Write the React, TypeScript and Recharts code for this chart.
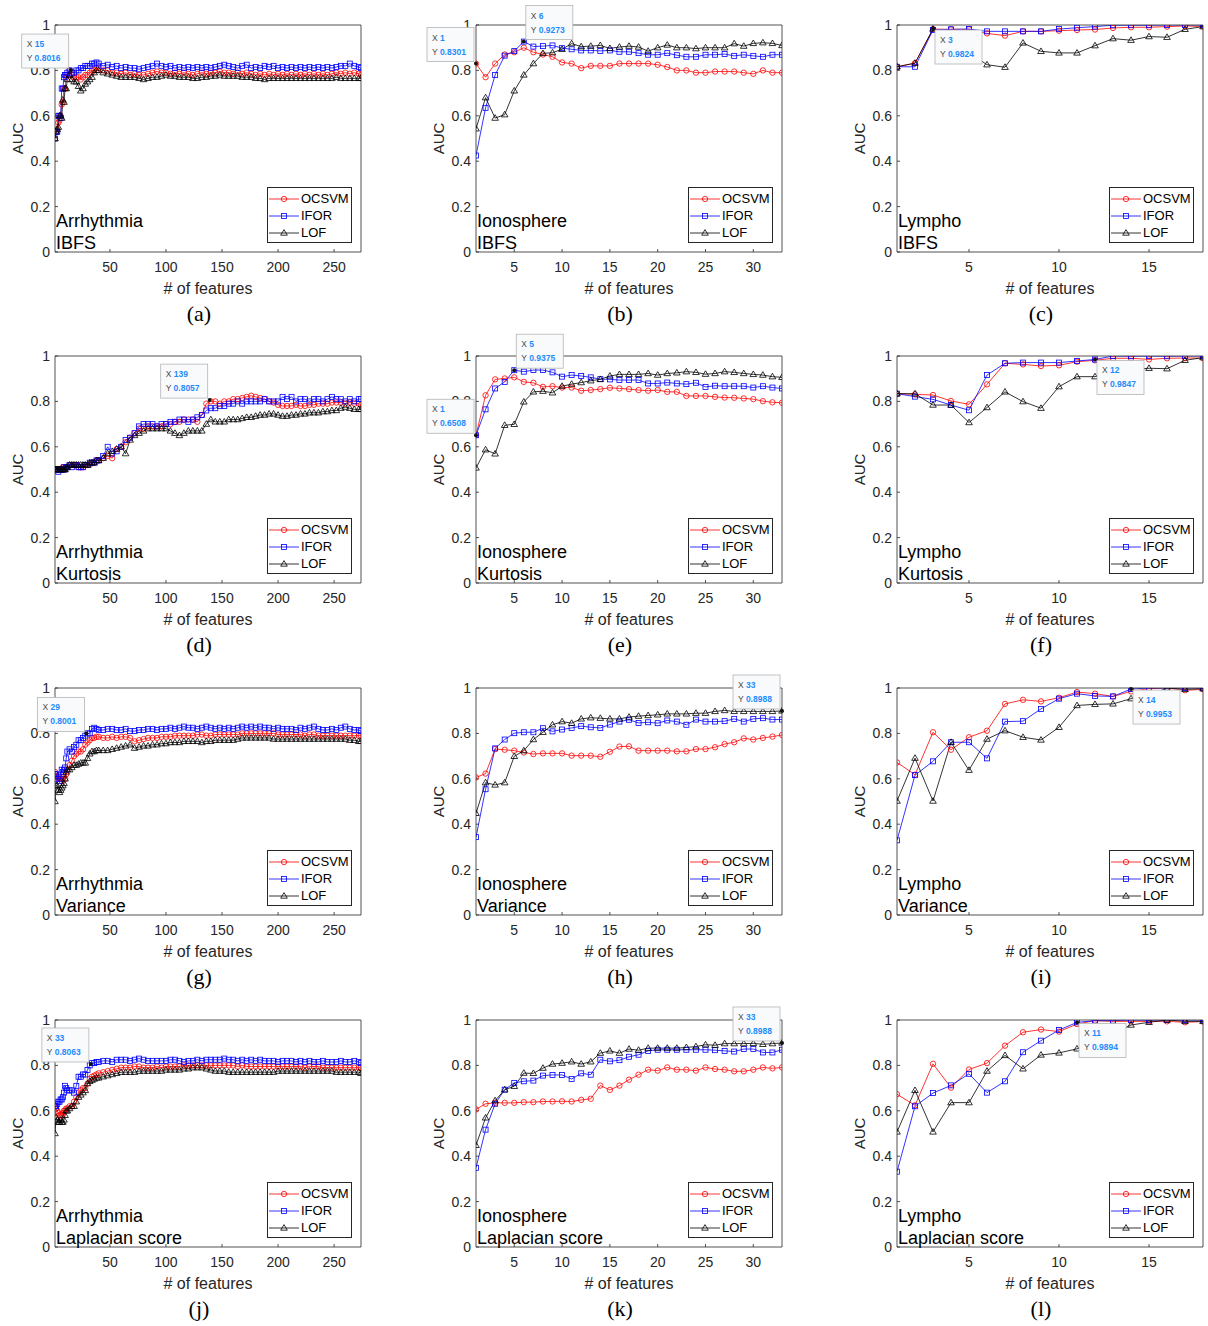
import React from 'react';
import { LineChart, Line, XAxis, YAxis, ReferenceDot } from 'recharts';

// ---- data -----------------------------------------------------------------
const SERIES = ['OCSVM', 'IFOR', 'LOF'];
const AUC_TICKS = [0, 0.2, 0.4, 0.6, 0.8, 1];
const ARR_TICKS = [50, 100, 150, 200, 250];
const ION_TICKS = [5, 10, 15, 20, 25, 30];
const LYM_TICKS = [5, 10, 15];

const ARR_X = [1, 2, 3, 4, 5, 6, 7, 8, 9, 10, 11, 12,
  14, 16, 18, 20, 22, 24, 26, 28, 30, 32, 34, 36, 38, 40,
  44, 48, 52, 56, 60, 64, 68, 72, 76, 80,
  84, 88, 92, 96, 100, 104, 108, 112, 116, 120,
  124, 128, 132, 136, 140, 144, 148, 152, 156, 160,
  164, 168, 172, 176, 180, 184, 188, 192, 196, 200,
  204, 208, 212, 216, 220, 224, 228, 232, 236, 240,
  244, 248, 252, 256, 260, 264, 268, 272, 274];
const ION_X = [1, 2, 3, 4, 5, 6, 7, 8, 9, 10, 11, 12, 13, 14, 15, 16, 17, 18, 19, 20, 21, 22, 23, 24, 25, 26, 27, 28, 29, 30, 31, 32, 33];
const LYM_X = [1, 2, 3, 4, 5, 6, 7, 8, 9, 10, 11, 12, 13, 14, 15, 16, 17, 18];

const ARR_IBFS_OCSVM = [.50, .53, .54, .57, .58, .60, .65, .66, .72, .72, .77, .78,
  .80, .78, .77, .77, .77, .76, .77, .78, .78, .79, .80, .80, .81, .81,
  .80, .80, .79, .79, .785, .79, .78, .785, .78, .78,
  .785, .79, .795, .79, .79, .785, .79, .785, .79, .785,
  .78, .785, .79, .785, .79, .79, .795, .79, .79, .785,
  .79, .785, .79, .785, .78, .785, .78, .785, .78, .785,
  .78, .785, .78, .785, .78, .785, .78, .785, .78, .785,
  .78, .785, .79, .785, .79, .785, .79, .785, .78];
const ARR_IBFS_IFOR = [.50, .53, .53, .60, .60, .59, .72, .72, .77, .78, .78, .79,
  .80, .79, .79, .80, .80, .81, .81, .82, .82, .82, .83, .83, .835, .83,
  .82, .825, .815, .82, .81, .815, .81, .81, .805, .81,
  .815, .82, .83, .82, .815, .82, .81, .815, .81, .815,
  .81, .815, .81, .815, .81, .815, .82, .825, .82, .815,
  .81, .82, .825, .81, .815, .81, .82, .815, .82, .81,
  .815, .81, .815, .81, .815, .81, .815, .81, .815, .81,
  .815, .81, .815, .82, .82, .83, .82, .815, .81];
const ARR_IBFS_LOF = [.50, .53, .54, .55, .60, .60, .59, .67, .66, .72, .72, .76,
  .78, .76, .75, .75, .73, .71, .72, .74, .75, .76, .77, .79, .80, .80,
  .79, .785, .78, .775, .77, .77, .77, .77, .765, .76,
  .765, .77, .77, .775, .78, .775, .775, .77, .77, .77,
  .765, .765, .77, .77, .775, .775, .78, .775, .775, .775,
  .775, .77, .77, .77, .765, .765, .76, .765, .765, .765,
  .765, .765, .765, .765, .765, .765, .765, .765, .765, .765,
  .765, .765, .77, .765, .765, .765, .765, .765, .765];

const ARR_KURT_OCSVM = [.50, .50, .50, .50, .50, .50, .50, .51, .50, .51, .51, .51,
  .52, .52, .52, .52, .51, .51, .51, .52, .52, .52, .53, .53, .54, .54,
  .55, .56, .55, .59, .60, .62, .64, .66, .68, .68,
  .69, .69, .69, .69, .70, .70, .71, .71, .72, .72,
  .72, .71, .74, .79, .80, .80, .79, .80, .80, .81,
  .81, .815, .82, .825, .82, .815, .81, .80, .795, .785,
  .78, .78, .78, .785, .78, .78, .785, .785, .79, .79,
  .79, .795, .795, .795, .79, .795, .79, .79, .785];
const ARR_KURT_IFOR = [.50, .50, .50, .49, .50, .50, .50, .50, .51, .50, .51, .51,
  .52, .51, .52, .52, .51, .51, .51, .52, .52, .53, .53, .53, .54, .54,
  .56, .60, .57, .58, .60, .63, .64, .66, .69, .70,
  .70, .70, .69, .70, .70, .71, .71, .72, .72, .71,
  .72, .73, .74, .76, .77, .77, .78, .78, .79, .79,
  .80, .79, .80, .80, .80, .80, .81, .80, .80, .80,
  .82, .81, .82, .80, .81, .81, .80, .81, .81, .80,
  .81, .82, .81, .81, .80, .81, .80, .81, .81];
const ARR_KURT_LOF = [.50, .50, .50, .50, .50, .50, .50, .50, .50, .50, .51, .51,
  .52, .52, .52, .52, .52, .52, .52, .52, .52, .53, .53, .53, .54, .54,
  .55, .57, .58, .59, .60, .57, .63, .65, .66, .67,
  .68, .68, .68, .68, .68, .67, .66, .65, .66, .67,
  .67, .67, .67, .70, .72, .71, .71, .71, .72, .72,
  .72, .725, .73, .73, .735, .74, .74, .745, .745, .74,
  .735, .735, .74, .74, .745, .745, .75, .75, .75, .755,
  .755, .76, .76, .77, .775, .77, .765, .765, .765];

const ARR_VAR_OCSVM = [.63, .62, .61, .60, .60, .60, .59, .60, .61, .60, .62, .64,
  .66, .68, .70, .71, .72, .72, .73, .75, .76, .77, .78, .78, .785, .785,
  .78, .78, .785, .78, .785, .785, .78, .765, .77, .775,
  .78, .78, .78, .785, .785, .785, .79, .79, .79, .79,
  .79, .795, .795, .79, .79, .795, .795, .795, .795, .795,
  .795, .80, .80, .80, .80, .80, .80, .80, .80, .795,
  .795, .795, .795, .795, .795, .79, .795, .795, .79, .79,
  .79, .79, .79, .79, .79, .79, .79, .79, .79];
const ARR_VAR_IFOR = [.62, .62, .60, .61, .59, .60, .64, .63, .64, .65, .69, .72,
  .73, .72, .74, .75, .77, .77, .78, .79, .80, .80, .82, .825, .82, .815,
  .815, .82, .82, .815, .815, .82, .81, .81, .815, .815,
  .82, .82, .815, .82, .82, .825, .82, .825, .83, .825,
  .825, .82, .825, .83, .825, .82, .825, .82, .825, .82,
  .825, .83, .825, .83, .825, .83, .825, .825, .82, .825,
  .82, .82, .82, .815, .825, .82, .825, .83, .82, .815,
  .815, .82, .815, .825, .83, .82, .815, .815, .81];
const ARR_VAR_LOF = [.50, .57, .57, .55, .54, .55, .56, .57, .58, .60, .63, .64,
  .64, .65, .66, .66, .665, .67, .67, .67, .69, .71, .72, .72, .725, .725,
  .725, .725, .73, .735, .74, .745, .75, .735, .74, .745,
  .745, .75, .75, .755, .755, .76, .76, .76, .765, .765,
  .765, .765, .76, .765, .765, .77, .77, .77, .77, .77,
  .775, .78, .78, .78, .78, .78, .78, .78, .775, .775,
  .775, .775, .775, .775, .775, .775, .775, .775, .775, .775,
  .775, .775, .775, .775, .775, .77, .77, .765, .765];

const ARR_LAP_OCSVM = [.62, .61, .60, .59, .58, .58, .58, .59, .60, .60, .61, .61,
  .62, .62, .64, .66, .68, .69, .70, .70, .72, .74, .75, .755, .76, .765,
  .77, .775, .78, .785, .79, .79, .79, .795, .795, .79,
  .79, .79, .795, .79, .795, .795, .795, .795, .80, .80,
  .80, .80, .80, .80, .80, .80, .80, .80, .80, .80,
  .795, .80, .795, .795, .795, .795, .795, .795, .795, .795,
  .795, .795, .795, .795, .795, .79, .795, .795, .795, .79,
  .79, .79, .79, .79, .79, .79, .79, .79, .79];
const ARR_LAP_IFOR = [.62, .62, .63, .64, .64, .65, .65, .66, .68, .71, .70, .69,
  .69, .69, .68, .71, .75, .75, .76, .76, .78, .80, .81, .81, .815, .815,
  .82, .82, .815, .825, .825, .825, .82, .825, .83, .825,
  .82, .82, .82, .82, .82, .825, .825, .82, .815, .82,
  .82, .825, .82, .825, .825, .825, .825, .83, .825, .825,
  .82, .825, .82, .825, .82, .825, .82, .82, .82, .815,
  .82, .82, .82, .815, .82, .815, .82, .815, .815, .82,
  .815, .815, .815, .82, .815, .815, .82, .815, .81];
const ARR_LAP_LOF = [.50, .57, .56, .55, .55, .56, .55, .55, .56, .58, .60, .60,
  .61, .62, .62, .64, .66, .67, .68, .69, .72, .73, .735, .74, .745, .745,
  .75, .755, .76, .765, .77, .77, .77, .77, .775, .775,
  .775, .775, .775, .775, .78, .78, .78, .78, .785, .785,
  .79, .79, .79, .785, .78, .775, .775, .775, .77, .77,
  .77, .77, .77, .77, .77, .77, .77, .77, .77, .775,
  .775, .775, .775, .775, .775, .775, .775, .775, .775, .775,
  .775, .775, .77, .77, .77, .77, .77, .77, .765];

const ION_IBFS_OCSVM = [0.83, 0.77, 0.83, 0.87, 0.88, 0.90, 0.88, 0.87, 0.86, 0.835, 0.83, 0.81, 0.82, 0.82, 0.82, 0.83, 0.83, 0.83, 0.83, 0.825, 0.815, 0.80, 0.80, 0.79, 0.79, 0.795, 0.795, 0.795, 0.79, 0.785, 0.80, 0.79, 0.79];
const ION_IBFS_IFOR = [0.425, 0.635, 0.78, 0.865, 0.885, 0.927, 0.905, 0.907, 0.91, 0.898, 0.893, 0.888, 0.888, 0.886, 0.888, 0.882, 0.882, 0.876, 0.869, 0.869, 0.876, 0.867, 0.86, 0.86, 0.869, 0.869, 0.872, 0.864, 0.869, 0.864, 0.86, 0.869, 0.869];
const ION_IBFS_LOF = [0.543, 0.68, 0.59, 0.605, 0.71, 0.78, 0.83, 0.875, 0.878, 0.893, 0.918, 0.905, 0.907, 0.91, 0.897, 0.903, 0.907, 0.903, 0.885, 0.90, 0.912, 0.90, 0.90, 0.896, 0.90, 0.90, 0.90, 0.918, 0.907, 0.919, 0.922, 0.919, 0.91];

const ION_KURT_OCSVM = [0.651, 0.827, 0.897, 0.901, 0.906, 0.886, 0.882, 0.864, 0.867, 0.861, 0.861, 0.847, 0.85, 0.854, 0.86, 0.857, 0.854, 0.85, 0.847, 0.85, 0.842, 0.842, 0.824, 0.824, 0.824, 0.82, 0.817, 0.816, 0.813, 0.81, 0.801, 0.796, 0.794];
const ION_KURT_IFOR = [0.651, 0.765, 0.857, 0.886, 0.9375, 0.931, 0.938, 0.938, 0.928, 0.909, 0.916, 0.912, 0.906, 0.898, 0.897, 0.894, 0.894, 0.894, 0.879, 0.879, 0.883, 0.879, 0.876, 0.882, 0.864, 0.869, 0.867, 0.867, 0.867, 0.861, 0.867, 0.861, 0.857];
const ION_KURT_LOF = [0.507, 0.587, 0.569, 0.695, 0.699, 0.798, 0.842, 0.845, 0.838, 0.867, 0.876, 0.883, 0.891, 0.897, 0.912, 0.919, 0.919, 0.919, 0.923, 0.916, 0.923, 0.926, 0.931, 0.928, 0.92, 0.923, 0.931, 0.928, 0.923, 0.919, 0.916, 0.909, 0.906];

const ION_VAR_OCSVM = [0.606, 0.623, 0.731, 0.728, 0.724, 0.716, 0.709, 0.712, 0.712, 0.712, 0.702, 0.702, 0.702, 0.697, 0.719, 0.742, 0.743, 0.724, 0.724, 0.724, 0.724, 0.721, 0.721, 0.731, 0.731, 0.739, 0.753, 0.761, 0.778, 0.773, 0.78, 0.786, 0.793];
const ION_VAR_IFOR = [0.343, 0.554, 0.734, 0.773, 0.801, 0.805, 0.805, 0.823, 0.809, 0.817, 0.824, 0.832, 0.827, 0.824, 0.839, 0.852, 0.86, 0.846, 0.849, 0.845, 0.857, 0.852, 0.838, 0.861, 0.852, 0.852, 0.854, 0.864, 0.852, 0.864, 0.867, 0.861, 0.861];
const ION_VAR_LOF = [0.448, 0.583, 0.573, 0.583, 0.699, 0.724, 0.773, 0.805, 0.838, 0.852, 0.845, 0.864, 0.869, 0.867, 0.864, 0.864, 0.872, 0.876, 0.879, 0.882, 0.886, 0.886, 0.886, 0.889, 0.889, 0.897, 0.901, 0.897, 0.897, 0.897, 0.897, 0.897, 0.8988];

const ION_LAP_OCSVM = [0.606, 0.631, 0.635, 0.635, 0.635, 0.638, 0.638, 0.641, 0.641, 0.642, 0.641, 0.648, 0.653, 0.711, 0.692, 0.711, 0.737, 0.759, 0.781, 0.777, 0.791, 0.781, 0.781, 0.777, 0.791, 0.784, 0.781, 0.774, 0.774, 0.781, 0.791, 0.787, 0.791];
const ION_LAP_IFOR = [0.349, 0.517, 0.631, 0.693, 0.723, 0.73, 0.733, 0.755, 0.758, 0.758, 0.74, 0.765, 0.759, 0.825, 0.818, 0.823, 0.838, 0.847, 0.864, 0.869, 0.869, 0.869, 0.869, 0.869, 0.869, 0.867, 0.864, 0.861, 0.872, 0.872, 0.857, 0.857, 0.869];
const ION_LAP_LOF = [0.448, 0.569, 0.645, 0.693, 0.708, 0.766, 0.765, 0.788, 0.806, 0.81, 0.816, 0.806, 0.816, 0.854, 0.864, 0.854, 0.872, 0.867, 0.876, 0.876, 0.876, 0.876, 0.879, 0.883, 0.891, 0.889, 0.896, 0.896, 0.896, 0.897, 0.893, 0.896, 0.8988];

const LYM_IBFS_OCSVM = [0.816, 0.832, 0.982, 0.981, 0.981, 0.963, 0.953, 0.972, 0.972, 0.975, 0.978, 0.98, 0.987, 0.99, 0.99, 0.993, 0.996, 0.993];
const LYM_IBFS_IFOR = [0.816, 0.816, 0.978, 0.981, 0.982, 0.972, 0.972, 0.972, 0.972, 0.982, 0.988, 0.993, 0.999, 0.999, 0.999, 1, 1, 1];
const LYM_IBFS_LOF = [0.816, 0.832, 0.9824, 0.95, 0.88, 0.825, 0.814, 0.921, 0.884, 0.877, 0.877, 0.909, 0.94, 0.933, 0.949, 0.946, 0.981, 0.993];

const LYM_KURT_OCSVM = [0.834, 0.831, 0.828, 0.802, 0.787, 0.875, 0.968, 0.963, 0.956, 0.959, 0.975, 0.981, 0.99, 0.99, 0.985, 0.99, 0.991, 0.991];
const LYM_KURT_IFOR = [0.834, 0.821, 0.809, 0.784, 0.761, 0.916, 0.968, 0.971, 0.971, 0.971, 0.978, 0.9847, 1, 0.999, 1, 0.999, 1, 1];
const LYM_KURT_LOF = [0.834, 0.834, 0.784, 0.784, 0.707, 0.773, 0.842, 0.799, 0.77, 0.865, 0.909, 0.909, 0.93, 0.94, 0.946, 0.944, 0.981, 0.993];

const LYM_VAR_OCSVM = [0.672, 0.618, 0.805, 0.728, 0.783, 0.812, 0.93, 0.948, 0.941, 0.957, 0.982, 0.975, 0.963, 0.985, 0.997, 1, 0.99, 0.994];
const LYM_VAR_IFOR = [0.329, 0.616, 0.677, 0.761, 0.761, 0.69, 0.852, 0.854, 0.908, 0.953, 0.975, 0.965, 0.963, 0.9953, 1, 1, 1, 1];
const LYM_VAR_LOF = [0.502, 0.691, 0.502, 0.761, 0.638, 0.775, 0.812, 0.783, 0.771, 0.827, 0.923, 0.928, 0.93, 0.953, 0.967, 1, 0.994, 0.997];

const LYM_LAP_OCSVM = [0.673, 0.624, 0.807, 0.702, 0.782, 0.81, 0.887, 0.946, 0.958, 0.949, 0.982, 0.997, 0.994, 0.994, 0.994, 0.994, 0.99, 0.993];
const LYM_LAP_IFOR = [0.332, 0.62, 0.678, 0.712, 0.763, 0.68, 0.73, 0.858, 0.909, 0.956, 0.9894, 0.997, 0.997, 1, 0.999, 1, 1, 1];
const LYM_LAP_LOF = [0.507, 0.69, 0.507, 0.636, 0.636, 0.775, 0.844, 0.785, 0.846, 0.855, 0.873, 0.9, 0.94, 0.978, 0.99, 1, 0.994, 0.994];

// one panel per dataset / feature-selection method; tips are the data cursors
const PANELS = [
  { tag: '(a)', name: 'Arrhythmia', method: 'IBFS', x: ARR_X, ys: [ARR_IBFS_OCSVM, ARR_IBFS_IFOR, ARR_IBFS_LOF], max: 274, ticks: ARR_TICKS, tips: [{ x: 15, y: 0.8016, corner: 'br' }] },
  { tag: '(b)', name: 'Ionosphere', method: 'IBFS', x: ION_X, ys: [ION_IBFS_OCSVM, ION_IBFS_IFOR, ION_IBFS_LOF], max: 33, ticks: ION_TICKS, tips: [{ x: 1, y: 0.8301, corner: 'br' }, { x: 6, y: 0.9273, corner: 'bl' }] },
  { tag: '(c)', name: 'Lympho', method: 'IBFS', x: LYM_X, ys: [LYM_IBFS_OCSVM, LYM_IBFS_IFOR, LYM_IBFS_LOF], max: 18, ticks: LYM_TICKS, tips: [{ x: 3, y: 0.9824, corner: 'tl' }] },
  { tag: '(d)', name: 'Arrhythmia', method: 'Kurtosis', x: ARR_X, ys: [ARR_KURT_OCSVM, ARR_KURT_IFOR, ARR_KURT_LOF], max: 274, ticks: ARR_TICKS, tips: [{ x: 139, y: 0.8057, corner: 'br' }] },
  { tag: '(e)', name: 'Ionosphere', method: 'Kurtosis', x: ION_X, ys: [ION_KURT_OCSVM, ION_KURT_IFOR, ION_KURT_LOF], max: 33, ticks: ION_TICKS, tips: [{ x: 1, y: 0.6508, corner: 'br' }, { x: 5, y: 0.9375, corner: 'bl' }] },
  { tag: '(f)', name: 'Lympho', method: 'Kurtosis', x: LYM_X, ys: [LYM_KURT_OCSVM, LYM_KURT_IFOR, LYM_KURT_LOF], max: 18, ticks: LYM_TICKS, tips: [{ x: 12, y: 0.9847, corner: 'tl' }] },
  { tag: '(g)', name: 'Arrhythmia', method: 'Variance', x: ARR_X, ys: [ARR_VAR_OCSVM, ARR_VAR_IFOR, ARR_VAR_LOF], max: 274, ticks: ARR_TICKS, tips: [{ x: 29, y: 0.8001, corner: 'br' }] },
  { tag: '(h)', name: 'Ionosphere', method: 'Variance', x: ION_X, ys: [ION_VAR_OCSVM, ION_VAR_IFOR, ION_VAR_LOF], max: 33, ticks: ION_TICKS, tips: [{ x: 33, y: 0.8988, corner: 'br' }] },
  { tag: '(i)', name: 'Lympho', method: 'Variance', x: LYM_X, ys: [LYM_VAR_OCSVM, LYM_VAR_IFOR, LYM_VAR_LOF], max: 18, ticks: LYM_TICKS, tips: [{ x: 14, y: 0.9953, corner: 'tl' }] },
  { tag: '(j)', name: 'Arrhythmia', method: 'Laplacian score', x: ARR_X, ys: [ARR_LAP_OCSVM, ARR_LAP_IFOR, ARR_LAP_LOF], max: 274, ticks: ARR_TICKS, tips: [{ x: 33, y: 0.8063, corner: 'br' }] },
  { tag: '(k)', name: 'Ionosphere', method: 'Laplacian score', x: ION_X, ys: [ION_LAP_OCSVM, ION_LAP_IFOR, ION_LAP_LOF], max: 33, ticks: ION_TICKS, tips: [{ x: 33, y: 0.8988, corner: 'br' }] },
  { tag: '(l)', name: 'Lympho', method: 'Laplacian score', x: LYM_X, ys: [LYM_LAP_OCSVM, LYM_LAP_IFOR, LYM_LAP_LOF], max: 18, ticks: LYM_TICKS, tips: [{ x: 11, y: 0.9894, corner: 'tl' }] },
];

// ---- layout / style -------------------------------------------------------
const COL_LEFT = [55, 476, 897];
const ROW_TOP = [25, 356, 688, 1020];
const PW = 306;
const PH = 227;
const PX = 55; // plot origin inside a panel box
const PY = 30;
const CW = PX + PW + 6;
const CH = PY + PH + 68;
const AX = '#262626';
const FONT = '"Liberation Sans", Arial, Helvetica, sans-serif';
const SERIF = '"Liberation Serif", "Times New Roman", serif';
const COLORS = ['#ff0000', '#0000ff', '#000000'];

function Marker({ kind, cx, cy }: { kind: number; cx: number; cy: number }) {
  const c = COLORS[kind];
  if (kind === 0) return <circle cx={cx} cy={cy} r={2.7} fill="none" stroke={c} strokeWidth={0.8} />;
  if (kind === 1) return <rect x={cx - 2.5} y={cy - 2.5} width={5} height={5} fill="none" stroke={c} strokeWidth={0.8} />;
  return <path d={`M${cx},${cy - 3.4}L${cx + 3.3},${cy + 2.2}L${cx - 3.3},${cy + 2.2}Z`} fill="none" stroke={c} strokeWidth={0.8} />;
}

function TipBox({ cx, cy, tip }: any) {
  const w = 47;
  const h = 34;
  const bx = tip.corner === 'br' ? cx - w - 2 : cx + 2;
  const by = tip.corner === 'tl' ? cy + 1 : cy - h - 2;
  return (
    <g>
      <rect x={bx} y={by} width={w} height={h} fill="#f9fafc" stroke="#b4b4b4" strokeWidth={0.8} />
      <text x={bx + 5} y={by + 13} fontSize={8.5} fontFamily={FONT}>
        <tspan fill="#4a4a4a">X </tspan>
        <tspan fill="#1f8bff" fontWeight="bold">{tip.x}</tspan>
      </text>
      <text x={bx + 5} y={by + 27} fontSize={8.5} fontFamily={FONT}>
        <tspan fill="#4a4a4a">Y </tspan>
        <tspan fill="#1f8bff" fontWeight="bold">{String(tip.y)}</tspan>
      </text>
      <circle cx={cx} cy={cy} r={2} fill="#111" />
    </g>
  );
}

function XTitle({ viewBox }: any) {
  return (
    <text x={viewBox.x + viewBox.width / 2} y={viewBox.y + 42} textAnchor="middle" fontSize={16} fill={AX} fontFamily={FONT}>
      # of features
    </text>
  );
}

function YTitle({ viewBox }: any) {
  const x = PX - 38;
  const y = viewBox.y + viewBox.height / 2;
  return (
    <text x={x} y={y} transform={`rotate(-90, ${x}, ${y})`} textAnchor="middle" dominantBaseline="central" fontSize={15} fill={AX} fontFamily={FONT}>
      AUC
    </text>
  );
}

function Legend() {
  return (
    <div style={{ position: 'absolute', left: PX + 212, top: PY + 162, width: 85, height: 56, boxSizing: 'border-box', border: `1px solid ${AX}`, background: '#fff' }}>
      {SERIES.map((s, k) => (
        <div key={s} style={{ position: 'absolute', left: 0, top: 3 + k * 17, height: 16, display: 'flex', alignItems: 'center' }}>
          <svg width={33} height={16}>
            <line x1={1} x2={31} y1={8} y2={8} stroke={COLORS[k]} strokeWidth={0.8} />
            <Marker kind={k} cx={16} cy={8} />
          </svg>
          <span style={{ fontFamily: FONT, fontSize: 13, color: '#000', lineHeight: '16px' }}>{s}</span>
        </div>
      ))}
    </div>
  );
}

function Panel({ p, left, top }: any) {
  const rows = p.x.map((x: number, i: number) => ({ x, OCSVM: p.ys[0][i], IFOR: p.ys[1][i], LOF: p.ys[2][i] }));
  const axisLine = { stroke: AX, strokeWidth: 0.8 };
  return (
    <div style={{ position: 'absolute', left: left - PX, top: top - PY, width: CW, height: CH }}>
      {/* top / right axes are 1px wide so they draw the box and the inner ticks */}
      <LineChart width={CW} height={CH} data={rows} margin={{ top: PY - 1, right: 5, bottom: 0, left: 0 }}>
        <XAxis xAxisId="b" type="number" dataKey="x" domain={[1, p.max]} ticks={p.ticks} interval={0} allowDataOverflow
          height={68} tickSize={-3} tickMargin={13} axisLine={axisLine} tickLine={axisLine}
          tick={{ fill: AX, fontSize: 14, fontFamily: FONT }} label={<XTitle />} />
        <XAxis xAxisId="t" orientation="top" type="number" dataKey="x" domain={[1, p.max]} ticks={p.ticks} interval={0} allowDataOverflow
          height={1} tickSize={-3} tick={false} axisLine={axisLine} tickLine={axisLine} />
        <YAxis yAxisId="l" type="number" domain={[0, 1]} ticks={AUC_TICKS} interval={0} allowDataOverflow width={PX}
          tickSize={-3} tickMargin={8} axisLine={axisLine} tickLine={axisLine} tickFormatter={(v: number) => String(v)}
          tick={{ fill: AX, fontSize: 14, fontFamily: FONT }} label={<YTitle />} />
        <YAxis yAxisId="r" orientation="right" type="number" domain={[0, 1]} ticks={AUC_TICKS} interval={0} allowDataOverflow
          width={1} tickSize={-3} tick={false} axisLine={axisLine} tickLine={axisLine} />
        {SERIES.map((s, k) => (
          <Line key={s} xAxisId="b" yAxisId="l" dataKey={s} stroke={COLORS[k]} strokeWidth={0.8} type="linear"
            isAnimationActive={false}
            dot={(d: any) => <Marker key={`${s}-${d.index}`} kind={k} cx={d.cx} cy={d.cy} />}
            activeDot={false} />
        ))}
        {p.tips.map((t: any, j: number) => (
          <ReferenceDot key={j} xAxisId="b" yAxisId="l" x={t.x} y={t.y} ifOverflow="visible" zIndex={2100}
            shape={(sp: any) => <TipBox cx={sp.cx} cy={sp.cy} tip={t} />} />
        ))}
      </LineChart>
      <Legend />
      <div style={{ position: 'absolute', left: PX + 1, top: PY + 184.5, fontFamily: FONT, fontSize: 18, lineHeight: '22px', color: '#000', whiteSpace: 'pre' }}>
        {p.name + '\n' + p.method}
      </div>
      <div style={{ position: 'absolute', left: PX + 144 - 40, top: PY + 277, width: 80, textAlign: 'center', fontFamily: SERIF, fontSize: 22, lineHeight: '24px', color: '#000' }}>
        {p.tag}
      </div>
    </div>
  );
}

export default function App() {
  return (
    <div style={{ position: 'absolute', left: 0, top: 0, width: 1208, height: 1326, overflow: 'hidden', background: '#fff' }}>
      {PANELS.map((p, i) => (
        <Panel key={p.tag} p={p} left={COL_LEFT[i % 3]} top={ROW_TOP[Math.floor(i / 3)]} />
      ))}
    </div>
  );
}
